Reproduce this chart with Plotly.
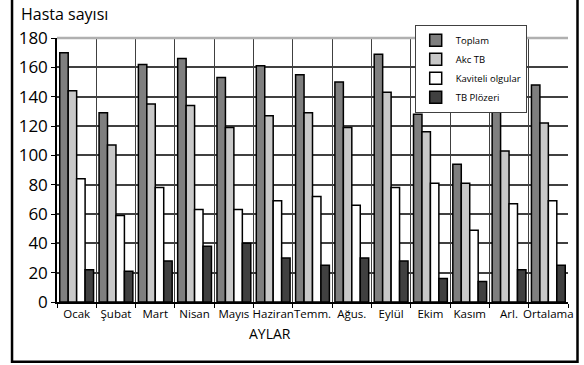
import plotly.graph_objects as go

months = ["Ocak", "Şubat", "Mart", "Nisan", "Mayıs", "Haziran", "Temm.", "Ağus.",
          "Eylül", "Ekim", "Kasım", "Arl.", "Ortalama"]
toplam = [170, 129, 162, 166, 153, 161, 155, 150, 169, 128, 94, 133, 148]
akc_tb = [144, 107, 135, 134, 119, 127, 129, 119, 143, 116, 81, 103, 122]
kaviteli = [84, 59, 78, 63, 63, 69, 72, 66, 78, 81, 49, 67, 69]
plozeri = [22, 21, 28, 38, 40, 30, 25, 30, 28, 16, 14, 22, 25]

series = [
    ("Toplam", toplam, "#7f7f7f"),
    ("Akc TB", akc_tb, "#c8c8c8"),
    ("Kaviteli olgular", kaviteli, "#ffffff"),
    ("TB Plözeri", plozeri, "#404040"),
]

fig = go.Figure()
for name, vals, col in series:
    fig.add_trace(go.Bar(
        x=months, y=vals, name=name,
        marker=dict(color=col, line=dict(color="#000000", width=1.5)),
    ))

font_family = "Open Sans, DejaVu Sans, sans-serif"

fig.update_layout(
    width=584, height=365,
    margin=dict(l=57, r=16, t=38, b=63, autoexpand=False),
    paper_bgcolor="white", plot_bgcolor="white",
    barmode="group", bargap=0.14, bargroupgap=0.0,
    font=dict(family=font_family, color="#000000"),
    showlegend=True,
    legend=dict(
        x=0.70, y=1.05, xanchor="left", yanchor="top",
        bgcolor="white", bordercolor="#404040", borderwidth=1,
        font=dict(size=9.5, family=font_family), itemwidth=30,
        tracegroupgap=0,
    ),
    xaxis=dict(
        type="category", tickson="boundaries", showgrid=True,
        gridcolor="#404040", gridwidth=1, tickangle=0, automargin=False,
        ticks="outside", ticklen=4, tickcolor="#000000",
        showline=True, linecolor="#000000", linewidth=1.5,
        tickfont=dict(size=11.5, family=font_family),
    ),
    yaxis=dict(
        range=[0, 180], dtick=20, showgrid=True, automargin=False,
        gridcolor="#404040", gridwidth=2,
        ticks="outside", ticklen=4, tickcolor="#000000",
        showline=True, linecolor="#000000", linewidth=1.5,
        tickfont=dict(size=17, family=font_family), zeroline=False,
    ),
    annotations=[
        dict(text="Hasta sayısı", xref="paper", yref="paper", x=-0.075, y=1.09,
             xanchor="left", yanchor="middle", showarrow=False,
             font=dict(size=16, family=font_family)),
        dict(text="AYLAR", xref="paper", yref="paper", x=0.417, y=-0.12,
             xanchor="center", yanchor="middle", showarrow=False,
             font=dict(size=14, family=font_family)),
    ],
    shapes=[
        dict(type="line", xref="paper", yref="paper", x0=0, x1=1, y0=1, y1=1,
             line=dict(color="#b0b0b0", width=2.5), layer="above"),
        dict(type="rect", xref="paper", yref="paper", x0=-0.088, x1=1.0186, y0=1.25, y1=-0.226,
             line=dict(color="#000000", width=2.5), fillcolor="rgba(0,0,0,0)", layer="above"),
    ],
)

fig.write_html("out.html", config={"displayModeBar": False},
               post_script="document.documentElement.style.overflow='hidden';document.body.style.margin='0';document.body.style.overflow='hidden';")
